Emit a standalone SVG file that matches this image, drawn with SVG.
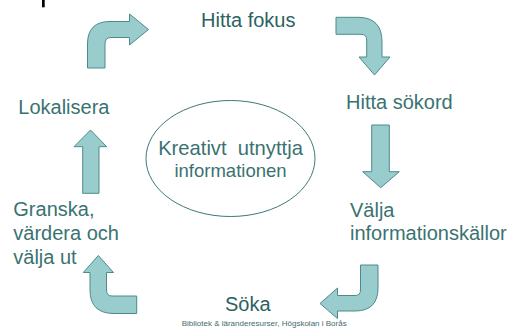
<svg xmlns="http://www.w3.org/2000/svg" width="519" height="331" viewBox="0 0 519 331">
<style>
.arrow{fill:#99CCCC;stroke:#4F8A8A;stroke-width:1;stroke-linejoin:miter}
.lbl{font-family:"Liberation Sans",Arial,sans-serif;font-size:20px;fill:#3A7272}
.em{fill:#2C6262}
.ctr{font-family:"Liberation Sans",Arial,sans-serif;font-size:18.5px;fill:#3A7272;text-anchor:middle}
.foot{font-family:"Liberation Sans",Arial,sans-serif;font-size:8px;fill:#3F6B6B}
</style>
<rect x="0" y="0" width="519" height="331" fill="#FFFFFF"/>
<rect x="42" y="0" width="2.7" height="7.3" fill="#000000"/>
<g id="connectors">
<path class="arrow" d="M87.5 68 L87.5 44 Q87.5 21.5 110 21.5 L129.5 21.5 L129.5 14 L148.5 29.5 L129.5 45 L129.5 37.5 L111 37.5 Q105 37.5 105 44 L105 68 Z"/>
<path class="arrow" d="M336 17.3 L358 17.3 Q382 17.3 382 42 L382 57 L390 57 L374.5 75 L359 57 L366.7 57 L366.7 40 Q366.7 34.3 361 34.3 L336 34.3 Z"/>
<path class="arrow" d="M371.7 125 L389.3 125 L389.3 171.7 L399.3 171.7 L380.7 187.7 L362.7 171.7 L371.7 171.7 Z"/>
<path class="arrow" d="M360.5 265 L378 265 L378 288 Q378 311 355 311 L337.5 311 L337.5 318.5 L320 303.5 L337.5 288 L337.5 295.5 L355 295.5 Q360.5 295.5 360.5 290 Z"/>
<path class="arrow" d="M90 272.5 L90 290 Q90 313.5 114 313.5 L136.7 313.5 L136.7 296 L112 296 Q106.5 296 106.5 290 L106.5 272.5 L113.5 272.5 L98.3 255.5 L83.3 272.5 Z"/>
<path class="arrow" d="M82.7 193.3 L99 193.3 L99 146.7 L106.7 146.7 L90.5 130 L74 146.7 L82.7 146.7 Z"/>
</g>
<g id="center">
<ellipse cx="230.5" cy="158.5" rx="84.5" ry="58" fill="#FFFFFF" stroke="#3F7777" stroke-width="1"/>
<text class="ctr" x="230.5" y="155" xml:space="preserve" style="white-space:pre;font-size:20.2px">Kreativt  utnyttja</text>
<text class="ctr" x="230.5" y="176.7">informationen</text>
</g>
<g id="hitta-fokus"><text class="lbl em" x="201" y="27.3">Hitta fokus</text></g>
<g id="hitta-sokord"><text class="lbl" x="346" y="109.3">Hitta sökord</text></g>
<g id="valja-kallor"><text class="lbl" x="350" y="216.7">Välja</text><text class="lbl" x="350" y="240">informationskällor</text></g>
<g id="soka"><text class="lbl em" x="225" y="310.7">Söka</text></g>
<g id="granska"><text class="lbl" x="13.3" y="216">Granska,</text><text class="lbl" x="13.3" y="240">värdera och</text><text class="lbl" x="13.3" y="264">välja ut</text></g>
<g id="lokalisera"><text class="lbl" x="18.3" y="114.3">Lokalisera</text></g>
<g id="footer"><text class="foot" x="181.7" y="326">Bibliotek &amp; läranderesurser, Högskolan i Borås</text></g>
</svg>
